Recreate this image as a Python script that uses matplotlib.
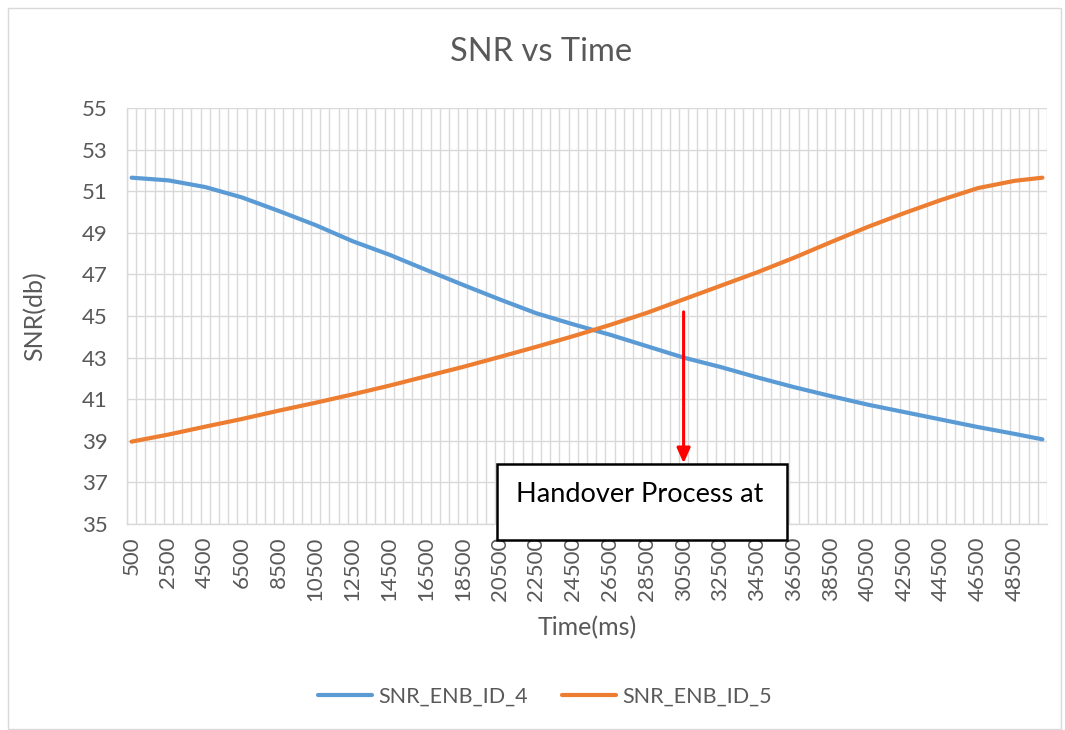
import numpy as np
import matplotlib
matplotlib.use('Agg')
from matplotlib import pyplot as plt
from matplotlib.patches import Rectangle

# tiempos (ms) leidos cada 2000 ms + ultimo punto
tiempo = [500, 2500, 4500, 6500, 8500, 10500, 12500, 14500, 16500, 18500,
          20500, 22500, 24500, 26500, 28500, 30500, 32500, 34500, 36500, 38500,
          40500, 42500, 44500, 46500, 48500, 50000]
snr_enb_4 = [51.65, 51.52, 51.20, 50.70, 50.05, 49.37, 48.60, 47.95, 47.22, 46.50,
             45.80, 45.13, 44.60, 44.10, 43.55, 43.00, 42.55, 42.05, 41.58, 41.15,
             40.74, 40.38, 40.02, 39.66, 39.33, 39.07]
snr_enb_5 = [38.96, 39.30, 39.68, 40.05, 40.45, 40.83, 41.23, 41.65, 42.10, 42.55,
             43.03, 43.52, 44.03, 44.57, 45.15, 45.80, 46.45, 47.10, 47.80, 48.55,
             49.28, 49.95, 50.58, 51.15, 51.50, 51.65]
etiquetas_x = list(range(500, 50000, 2000))
handover_t = 30500

W, H = 1065, 730
gris = '#595959'
fuente = 'Lato'
plt.rcParams['font.family'] = [fuente, 'DejaVu Sans']

fig = plt.figure(figsize=(W / 100, H / 100), dpi=100)
fig.patches.append(Rectangle((8 / W, 1 - 729 / H), 1053 / W, 721 / H, transform=fig.transFigure,
                             fill=False, edgecolor='#d9d9d9', lw=1))

ax = fig.add_axes([127 / W, 1 - 524 / H, (1047 - 127) / W, (524 - 108) / H])
ax.plot(tiempo, snr_enb_4, color='#5B9BD5', lw=3.0, label='SNR_ENB_ID_4', solid_capstyle='round')
ax.plot(tiempo, snr_enb_5, color='#ED7D31', lw=3.0, label='SNR_ENB_ID_5', solid_capstyle='round')

ax.set_xlim(250, 50250)
ax.set_ylim(35, 55)
ax.set_yticks(np.arange(35, 56, 2))
ax.set_xticks(etiquetas_x)
ax.set_xticklabels([str(v) for v in etiquetas_x], rotation=90, va='top')
ax.set_xticks(np.arange(250, 50251, 500), minor=True)
ax.grid(False)
ax.grid(True, which='minor', axis='x', color='#d9d9d9', lw=1.0)
ax.grid(True, which='major', axis='y', color='#d9d9d9', lw=1.0)
ax.set_axisbelow(True)
ax.tick_params(which='both', length=0, colors=gris, labelsize=16)
ax.tick_params(axis='y', pad=14)
ax.tick_params(axis='x', pad=9)
for s in ['top', 'right']:
    ax.spines[s].set_visible(False)
for s in ['left', 'bottom']:
    ax.spines[s].set_color('#d9d9d9')
    ax.spines[s].set_linewidth(1.0)

# flecha roja del handover
ax.annotate('', xy=(handover_t, 37.92), xytext=(handover_t, 45.2),
            arrowprops=dict(arrowstyle='-|>,head_length=0.9,head_width=0.4', color='red', lw=2.2,
                            shrinkA=0, shrinkB=0))

# caja de texto
fig.patches.append(Rectangle((497 / W, 1 - 540 / H), 290 / W, 76 / H, transform=fig.transFigure,
                             fill=True, facecolor='white', edgecolor='black', lw=1.8, zorder=5))
fig.text(640 / W, 1 - 495 / H, 'Handover Process at', ha='center', va='center',
         fontsize=19.5, color='black', zorder=6)

fig.text(541 / W, 1 - 52 / H, 'SNR vs Time', ha='center', va='center', fontsize=23.5, color=gris)
fig.text(587 / W, 1 - 628 / H, 'Time(ms)', ha='center', va='center', fontsize=18, color=gris)
fig.text(35 / W, 1 - 316 / H, 'SNR(db)', ha='center', va='center', fontsize=18, color=gris,
         rotation=90)

fig.legend(loc='center', bbox_to_anchor=(545 / W, 1 - 697 / H), ncol=2, frameon=False,
           fontsize=15.5, handlelength=2.5, columnspacing=1.6, handletextpad=0.3,
           labelcolor=gris)

fig.savefig('out.png', dpi=100)
